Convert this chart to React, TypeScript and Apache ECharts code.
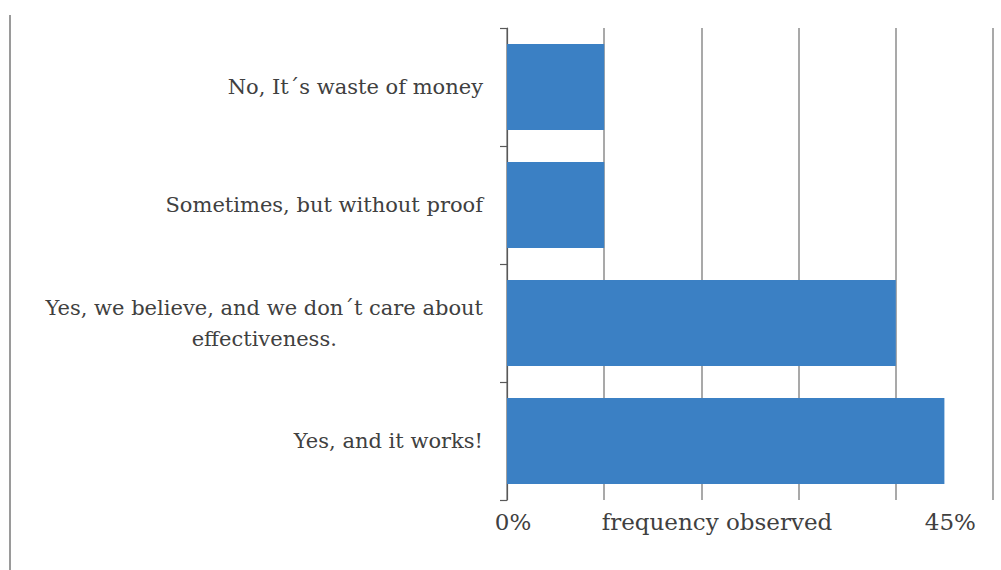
import React, { useEffect, useRef } from "react";
import * as echarts from "echarts";

const categories = [
  "Yes, and it works!",
  "Yes, we believe, and we don´t care about\neffectiveness.",
  "Sometimes, but without proof",
  "No, It´s waste of money",
];
const values = [45, 40, 10, 10];
const gridTicks = { min: 0, max: 50, interval: 10 };
const labelTicks: Record<number, string> = { 0: "0%", 45: "45%" };
const axisTitle = "frequency observed";

const FONT = "DejaVu Serif";
const TEXT = "#404040";

export default function App() {
  const ref = useRef<HTMLDivElement>(null);
  useEffect(() => {
    document.body.style.margin = "0";
    const chart = echarts.init(ref.current!, null, { renderer: "svg" });
    chart.setOption({
      animation: false,
      backgroundColor: "#ffffff",
      grid: { left: 507, right: 8, top: 28, bottom: 70, containLabel: false },
      xAxis: [
        {
          type: "value",
          min: gridTicks.min,
          max: gridTicks.max,
          interval: gridTicks.interval,
          axisLine: { show: false },
          axisTick: { show: false },
          axisLabel: { show: false },
          splitLine: { show: true, lineStyle: { color: "#8c8c8c", width: 1.5 } },
          name: axisTitle,
          nameLocation: "middle",
          nameGap: 10,
          nameTextStyle: { fontFamily: FONT, fontSize: 23, color: TEXT, padding: [0, 66, 0, 0] },
        },
        {
          type: "value",
          min: gridTicks.min,
          max: gridTicks.max,
          interval: 5,
          position: "bottom",
          axisLine: { show: false },
          axisTick: { show: false },
          splitLine: { show: false },
          axisLabel: {
            margin: 10,
            fontFamily: FONT,
            fontSize: 23,
            color: TEXT,
            padding: [0, 0, 0, 12],
            formatter: (v: number) => labelTicks[v] ?? "",
          },
        },
      ],
      yAxis: {
        type: "category",
        data: categories,
        axisLine: { show: true, lineStyle: { color: "#595959", width: 1.2 } },
        axisTick: { show: true, length: 7, lineStyle: { color: "#595959", width: 1.2 } },
        splitLine: { show: false },
        axisLabel: {
          margin: 24,
          fontFamily: FONT,
          fontSize: 21,
          color: TEXT,
          lineHeight: 31,
          formatter: (v: string) =>
            v
              .split("\n")
              .map((l) => `{c|${l}}`)
              .join("\n"),
          rich: { c: { align: "center", fontFamily: FONT, fontSize: 21, color: TEXT, lineHeight: 31 } },
        },
      },
      series: [
        {
          type: "bar",
          data: values,
          barCategoryGap: "27%",
          itemStyle: { color: "#3b80c4" },
        },
      ],
      graphic: [
        {
          type: "line",
          shape: { x1: 10, y1: 15, x2: 10, y2: 570 },
          style: { stroke: "#9a9a9a", lineWidth: 2 },
        },
      ],
    });
    return () => chart.dispose();
  }, []);
  return <div ref={ref} style={{ width: 1001, height: 570 }} />;
}
